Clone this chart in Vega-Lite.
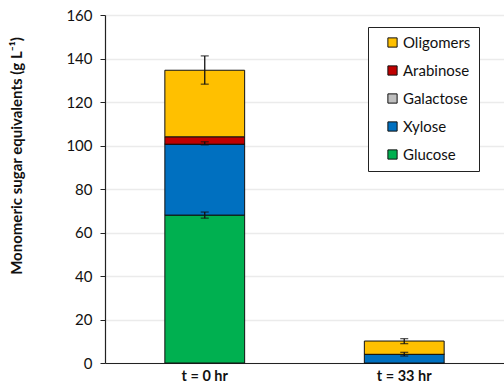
{
  "$schema": "https://vega.github.io/schema/vega-lite/v6.json",
  "width": 399,
  "height": 348,
  "autosize": {"type": "none"},
  "padding": {"left": 105, "top": 15, "right": 0, "bottom": 23},
  "background": "white",
  "config": {
    "font": "Lato",
    "view": {"stroke": null},
    "axis": {"labelFont": "Lato", "titleFont": "Lato", "labelColor": "#111", "titleColor": "#111"}
  },
  "datasets": {
    "sugars": [
      {"time": "t = 0 hr", "sugar": "Glucose", "ord": 1, "value": 68.0},
      {"time": "t = 0 hr", "sugar": "Xylose", "ord": 2, "value": 32.6},
      {"time": "t = 0 hr", "sugar": "Galactose", "ord": 3, "value": 0.0},
      {"time": "t = 0 hr", "sugar": "Arabinose", "ord": 4, "value": 3.4},
      {"time": "t = 0 hr", "sugar": "Oligomers", "ord": 5, "value": 30.6},
      {"time": "t = 33 hr", "sugar": "Glucose", "ord": 1, "value": 0.0},
      {"time": "t = 33 hr", "sugar": "Xylose", "ord": 2, "value": 4.0},
      {"time": "t = 33 hr", "sugar": "Galactose", "ord": 3, "value": 0.0},
      {"time": "t = 33 hr", "sugar": "Arabinose", "ord": 4, "value": 0.0},
      {"time": "t = 33 hr", "sugar": "Oligomers", "ord": 5, "value": 6.1}
    ],
    "errors": [
      {"time": "t = 0 hr", "lo": 66.6, "hi": 69.4},
      {"time": "t = 0 hr", "lo": 100.3, "hi": 101.7},
      {"time": "t = 0 hr", "lo": 128.2, "hi": 141.2},
      {"time": "t = 33 hr", "lo": 3.2, "hi": 4.9},
      {"time": "t = 33 hr", "lo": 8.9, "hi": 11.2}
    ]
  },
  "encoding": {
    "x": {
      "field": "time", "type": "nominal", "sort": ["t = 0 hr", "t = 33 hr"],
      "scale": {"paddingInner": 0.6, "paddingOuter": 0.3},
      "axis": {"title": null, "labelAngle": 0, "labelFontSize": 14.5, "labelFontWeight": "bold", "ticks": false, "domainColor": "#222", "domainWidth": 1.2, "labelPadding": 6, "grid": false}
    }
  },
  "layer": [
    {
      "data": {"name": "sugars"},
      "mark": {"type": "bar", "stroke": "#111", "strokeWidth": 1},
      "encoding": {
        "y": {
          "field": "value", "type": "quantitative", "stack": "zero",
          "scale": {"domain": [0, 160], "nice": false},
          "axis": {"values": [0, 20, 40, 60, 80, 100, 120, 140, 160], "title": "Monomeric sugar equivalents (g L⁻¹)", "titleFontSize": 15, "titleFontWeight": "bold", "titleY": 140.5, "titleX": -89, "titleAlign": "center", "titleAngle": -90, "titleBaseline": "middle", "labelFontSize": 15, "labelPadding": 8, "tickSize": 5, "tickColor": "#222", "domainColor": "#222", "domainWidth": 1.2, "gridColor": "#ebebeb", "gridWidth": 1.5}
        },
        "order": {"field": "ord", "type": "quantitative", "sort": "ascending"},
        "color": {
          "field": "sugar", "type": "nominal",
          "scale": {"domain": ["Oligomers", "Arabinose", "Galactose", "Xylose", "Glucose"], "range": ["#FFC000", "#C00000", "#BFBFBF", "#0070C0", "#00B050"]},
          "legend": {"title": null, "orient": "none", "legendX": 263, "legendY": 12, "symbolType": "square", "symbolSize": 85, "symbolStrokeColor": "#111", "symbolStrokeWidth": 1, "symbolOffset": 9, "labelFontSize": 15, "labelFont": "Lato", "labelColor": "#111", "labelExpr": "datum.label + '    '", "rowPadding": 12, "padding": 8, "strokeColor": "#222", "fillColor": "white", "labelOffset": 3}
        }
      }
    },
    {
      "data": {"name": "errors"},
      "mark": {"type": "rule", "color": "#111", "strokeWidth": 1.3},
      "encoding": {"y": {"field": "lo", "type": "quantitative"}, "y2": {"field": "hi"}}
    },
    {
      "data": {"name": "errors"},
      "mark": {"type": "tick", "color": "#111", "thickness": 1.3, "size": 8},
      "encoding": {"y": {"field": "lo", "type": "quantitative"}}
    },
    {
      "data": {"name": "errors"},
      "mark": {"type": "tick", "color": "#111", "thickness": 1.3, "size": 8},
      "encoding": {"y": {"field": "hi", "type": "quantitative"}}
    }
  ]
}
